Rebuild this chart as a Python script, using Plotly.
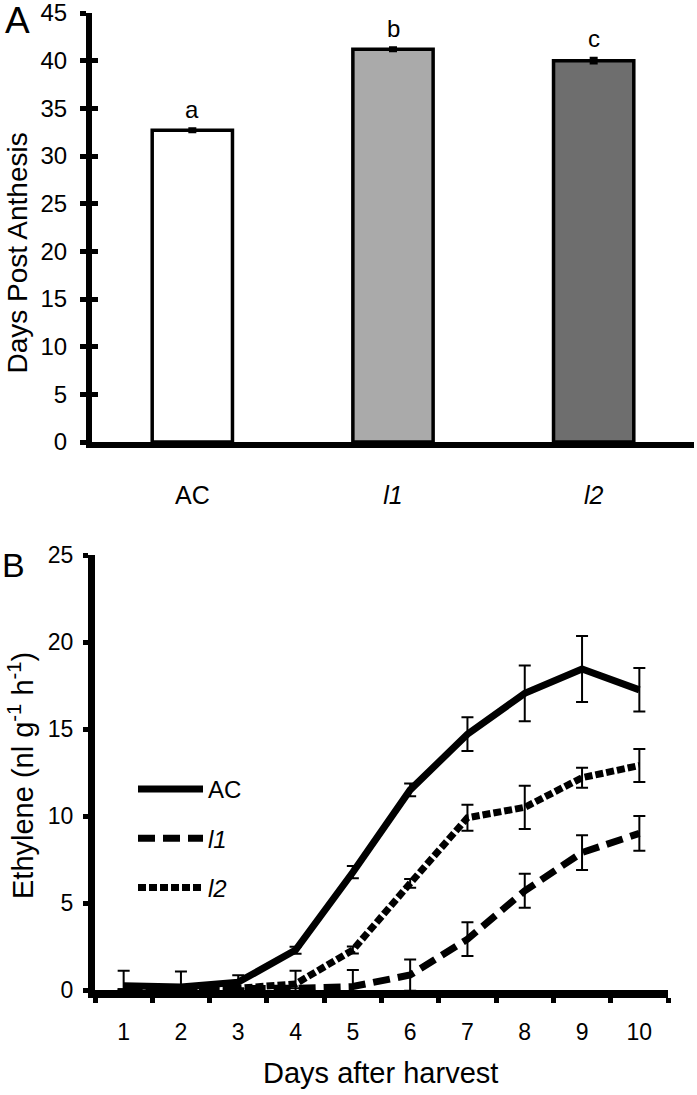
import plotly.graph_objects as go

# ---------------- Panel A data ----------------
genotypes = ["AC", "l1", "l2"]
genotype_labels = ["AC", "<i>l1</i>", "<i>l2</i>"]
days_post_anthesis = [32.7, 41.2, 40.0]
dpa_err = [0.15, 0.15, 0.25]
dpa_letters = ["a", "b", "c"]
bar_colors = ["#ffffff", "#aaaaaa", "#6e6e6e"]
a_ticks = [0, 5, 10, 15, 20, 25, 30, 35, 40, 45]

# ---------------- Panel B data ----------------
days = ["1", "2", "3", "4", "5", "6", "7", "8", "9", "10"]
eth_AC = [0.25, 0.17, 0.45, 2.29, 6.77, 11.5, 14.7, 17.05, 18.45, 17.25]
eth_AC_err = [0.85, 0.9, 0.4, 0.2, 0.35, 0.37, 0.97, 1.6, 1.9, 1.25]
eth_l1 = [0.05, 0.05, 0.05, 0.1, 0.2, 0.86, 2.92, 5.7, 7.9, 9.0]
eth_l1_err = [0, 0, 0, 0, 0.95, 0.9, 0.97, 0.98, 1.0, 1.0]
eth_l2 = [0.05, 0.05, 0.1, 0.35, 2.3, 6.13, 9.9, 10.5, 12.2, 12.9]
eth_l2_err = [0, 0, 0, 0.75, 0.2, 0.25, 0.75, 1.24, 0.57, 0.95]
b_ticks = [0, 5, 10, 15, 20, 25]

FONT = "Liberation Sans, Arial, sans-serif"
W, H = 697, 1095

fig = go.Figure()

# Panel A bars
fig.add_trace(go.Bar(
    x=genotypes, y=days_post_anthesis,
    marker=dict(color=bar_colors, line=dict(color="black", width=3.5)),
    error_y=dict(type="data", array=dpa_err, visible=True, color="black",
                 thickness=3, width=4),
    xaxis="x", yaxis="y", showlegend=False, hoverinfo="skip",
))
# invisible trace to carry the overlay axis (inside ticks -> cross ticks)
fig.add_trace(go.Scatter(
    x=genotypes, y=days_post_anthesis, mode="none",
    xaxis="x", yaxis="y3", showlegend=False, hoverinfo="skip",
))

# Panel B lines
series = [
    ("AC", eth_AC, eth_AC_err, "solid"),
    ("<i>l1</i>", eth_l1, eth_l1_err, "17px,8px"),
    ("<i>l2</i>", eth_l2, eth_l2_err, "8px,3px"),
]
for i, (name, vals, errs, dash) in enumerate(series):
    fig.add_trace(go.Scatter(
        x=days, y=vals, name=name, mode="lines",
        line=dict(color="black", width=7, dash=dash),
        error_y=dict(type="data", array=errs, visible=True, color="black",
                     thickness=2, width=6),
        xaxis="x2", yaxis="y2", legendgroup=str(i), hoverinfo="skip",
    ))

# letters above bars
annotations = []
for g, v, e, t in zip(genotypes, days_post_anthesis, dpa_err, dpa_letters):
    annotations.append(dict(
        x=g, y=v + e, xref="x", yref="y", text=t, showarrow=False,
        yanchor="bottom", yshift=4, font=dict(family=FONT, size=24, color="black"),
    ))

def px_x(p):
    return p / W

def px_y(p):
    return 1 - p / H

annotations += [
    dict(x=px_x(17), y=1, xref="paper", yref="paper", text="A",
         showarrow=False, font=dict(family=FONT, size=37, color="black"),
         xanchor="center", yanchor="top", yshift=2),
    dict(x=px_x(14), y=px_y(565), xref="paper", yref="paper", text="B",
         showarrow=False, font=dict(family=FONT, size=34, color="black"),
         xanchor="center", yanchor="middle"),
    dict(x=0, y=px_y(253), xref="paper", yref="paper",
         text="Days Post Anthesis", textangle=-90, showarrow=False,
         font=dict(family=FONT, size=28, color="black"),
         xanchor="left", yanchor="middle"),
    dict(x=px_x(5), y=px_y(776), xref="paper", yref="paper",
         text="Ethylene (nl g<sup>-1</sup> h<sup>-1</sup>)", textangle=-90,
         showarrow=False, font=dict(family=FONT, size=29, color="black"),
         xanchor="left", yanchor="middle", xshift=-4),
    dict(x=px_x(380), y=px_y(1073), xref="paper", yref="paper",
         text="Days after harvest", showarrow=False,
         font=dict(family=FONT, size=29, color="black"),
         xanchor="center", yanchor="middle"),
]

fig.update_layout(
    width=W, height=H,
    margin=dict(l=0, r=0, t=0, b=0, autoexpand=False),
    paper_bgcolor="white", plot_bgcolor="white",
    font=dict(family=FONT, color="black"),
    bargap=0.6,
    annotations=annotations,
    showlegend=True,
    legend=dict(
        x=px_x(133), y=px_y(767), xanchor="left", yanchor="top",
        bgcolor="rgba(0,0,0,0)", font=dict(family=FONT, size=24, color="black"),
        itemwidth=65, tracegroupgap=15, traceorder="grouped",
    ),
    xaxis=dict(
        domain=[px_x(92), px_x(694)], anchor="y", automargin=False,
        categoryorder="array", categoryarray=genotypes,
        range=[-0.5, 2.5],
        tickvals=genotypes, ticktext=genotype_labels,
        showline=True, linecolor="black", linewidth=6,
        ticks="", showgrid=False, zeroline=False,
        tickfont=dict(family=FONT, size=25, color="black"),
        ticklabelstandoff=26,
    ),
    yaxis=dict(
        domain=[px_y(442), px_y(13)], anchor="x", automargin=False,
        range=[0, 45], tickvals=a_ticks,
        showline=True, linecolor="black", linewidth=6,
        ticks="outside", ticklen=6, tickwidth=5, tickcolor="black",
        showgrid=False, zeroline=False, ticklabeloverflow="allow",
        tickfont=dict(family=FONT, size=24, color="black"),
        ticklabelstandoff=8,
    ),
    yaxis3=dict(
        overlaying="y", matches="y", anchor="x", side="left", automargin=False,
        range=[0, 45], tickvals=a_ticks,
        ticks="inside", ticklen=6, tickwidth=5, tickcolor="black",
        showticklabels=False, showline=False, showgrid=False, zeroline=False,
    ),
    xaxis2=dict(
        domain=[px_x(95), px_x(668)], anchor="y2", automargin=False,
        type="category", categoryorder="array", categoryarray=days,
        range=[-0.5, 9.5], tickson="boundaries",
        showline=True, linecolor="black", linewidth=8,
        ticks="outside", ticklen=5, tickwidth=5, tickcolor="black",
        showgrid=False, zeroline=False,
        tickfont=dict(family=FONT, size=23, color="black"),
        ticklabelstandoff=14,
    ),
    yaxis2=dict(
        domain=[px_y(990), px_y(555)], anchor="x2", automargin=False,
        range=[0, 25], tickvals=b_ticks,
        showline=True, linecolor="black", linewidth=7,
        ticks="outside", ticklen=5, tickwidth=5, tickcolor="black",
        showgrid=False, zeroline=False, ticklabeloverflow="allow",
        tickfont=dict(family=FONT, size=23, color="black"),
        ticklabelstandoff=5,
    ),
)

fig.write_html("out.html", config={"displayModeBar": False},
               post_script="document.body.style.margin='0px';")
